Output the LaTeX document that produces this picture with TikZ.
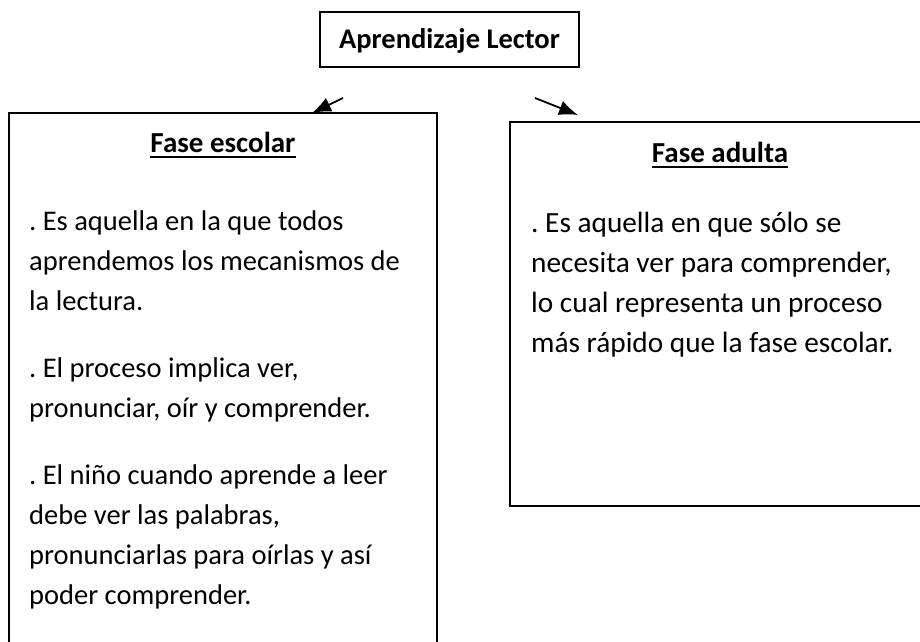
\documentclass[tikz,border=0pt]{standalone}
\usepackage{fontspec}
\setmainfont{Carlito}
\usetikzlibrary{arrows.meta}
\newcommand{\natsp}{\spaceskip=0pt\xspaceskip=0pt\relax}
\begin{document}
\begin{tikzpicture}[x=1pt,y=-1pt,
  frame/.style={draw=black, line width=1.8pt, rectangle, inner sep=0pt, outer sep=0pt, anchor=north west},
  title/.style={font=\fontsize{29}{40}\selectfont\bfseries, inner sep=0pt, anchor=base},
  body/.style={font=\fontsize{28.5}{40}\selectfont\frenchspacing, align=left, text width=500pt, inner sep=0pt, anchor=base west},
  uline/.style={line width=2pt},
  arr/.style={line width=1.8pt, -{Latex[length=19pt,width=15pt]}}]
\useasboundingbox (0,0) rectangle (920,641);
\clip (0,0) rectangle (920,641);
% boxes
\node[frame, minimum width=259pt, minimum height=55pt] (topbox) at (320,12) {};
\node[frame, minimum width=428pt, minimum height=560pt] (leftbox) at (9,113) {};
\node[frame, minimum width=440pt, minimum height=384pt] (rightbox) at (510,122) {};
% titles
\node[title, font=\fontsize{28.5}{40}\selectfont\bfseries] (toptitle) at (449.5,48) {Aprendizaje Lector};
\node[title] (lefttitle) at (223,152) {Fase escolar};
\node[title] (righttitle) at (720,162) {Fase adulta};
\draw[uline] ([yshift=-5pt]lefttitle.base west) -- ([yshift=-5pt]lefttitle.base east);
\draw[uline] ([yshift=-5pt]righttitle.base west) -- ([yshift=-5pt]righttitle.base east);
% body text
\node[body] (l1) at (29,230) {\natsp. Es aquella en la que todos\\aprendemos los mecanismos de\\la lectura.};
\node[body] (l2) at (29,377) {\natsp. El proceso implica ver,\\pronunciar, oír y comprender.};
\node[body] (l3) at (29,484) {\natsp. El niño cuando aprende a leer\\debe ver las palabras,\\pronunciarlas para oírlas y así\\poder comprender.};
\node[body, font=\fontsize{29.3}{40}\selectfont\frenchspacing] (r1) at (531,232) {\natsp. Es aquella en que sólo se\\necesita ver para comprender,\\lo cual representa un proceso\\más rápido que la fase escolar.};
% arrows
\coordinate (a1s) at (343,98);
\coordinate (a1e) at (312,113);
\coordinate (a2s) at (535,98);
\coordinate (a2e) at (578,115);
\draw[arr] (a1s) -- (a1e);
\draw[arr] (a2s) -- (a2e);
\end{tikzpicture}
\end{document}
